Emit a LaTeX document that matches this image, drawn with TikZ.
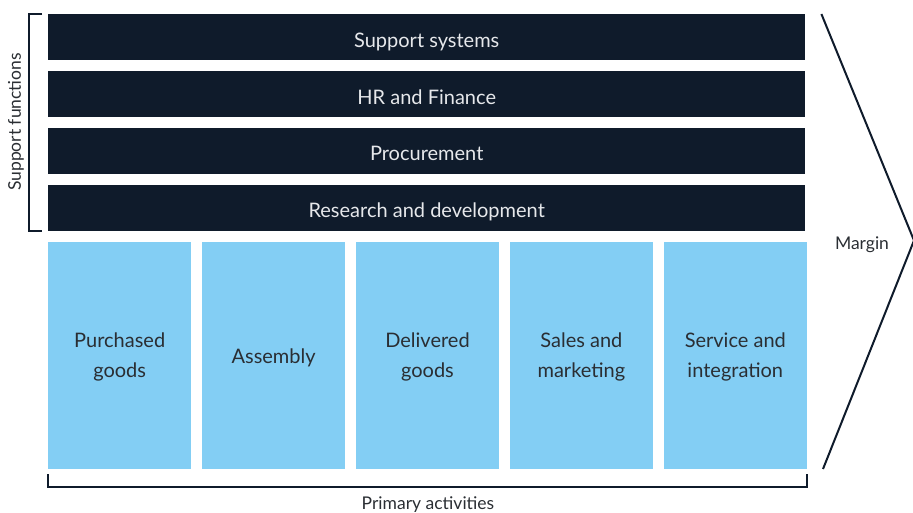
\documentclass[tikz,border=0pt]{standalone}
\usepackage{fontspec}
\setmainfont{Lato}
\usetikzlibrary{positioning}

\definecolor{navy}{HTML}{0F1B2B}
\definecolor{skyblue}{HTML}{83CEF4}
\definecolor{bartext}{HTML}{E6E8EB}
\definecolor{boxtext}{HTML}{2A2E33}

\tikzset{
  supbar/.style={fill=navy, text=bartext, minimum width=757pt, minimum height=46pt, inner sep=0pt, text height=20pt, text depth=0pt, font=\fontsize{20}{24}\selectfont},
  actbox/.style={fill=skyblue, text=boxtext, minimum width=143pt, minimum height=227pt, inner sep=0pt, align=center, text height=44pt, text depth=0pt, font=\fontsize{20}{30}\selectfont},
  brace/.style={draw=navy, line width=1.2pt},
  sidelabel/.style={text=boxtext, font=\fontsize{17.5}{20}\selectfont}
}

\begin{document}
\begin{tikzpicture}[x=1pt, y=-1pt, node distance=10.5pt]
  \useasboundingbox (0,0) rectangle (913,513);
  % support functions
  \node[supbar, anchor=north west](r1) at (48,14){Support systems};
  \node[supbar, below =of r1](r2){HR and Finance};
  \node[supbar, below =of r2](r3){Procurement};
  \node[supbar, below =of r3](r4){Research and development};
  % primary activities
  \node[actbox, anchor=north west](p1) at ([yshift=-10.5pt]r4.south west){Purchased\\goods};
  \node[actbox, right =10.5pt of p1, text height=16pt](p2){Assembly};
  \node[actbox, right =10.5pt of p2](p3){Delivered\\goods};
  \node[actbox, right =10.5pt of p3](p4){Sales and\\marketing};
  \node[actbox, right =10.5pt of p4](p5){Service and\\integration};
  % brackets
  \draw[brace] ([xshift=-6pt]r1.north west) -| ([xshift=-19pt]r4.south west) -- ([xshift=-6pt]r4.south west);
  \node[sidelabel, rotate=90](sf) at (16,122){Support functions};
  \draw[brace] ([yshift=-5pt]p1.south west) -- ++(0,13) -| ([yshift=-5pt]p5.south east);
  \node[sidelabel](pa) at (428,505){Primary activities};
  % margin
  \coordinate (tip) at (914,240.5);
  \draw[navy, line width=2pt] ([xshift=16pt]r1.north east) -- (tip) -- ([xshift=16pt]p5.south east);
  \node[sidelabel](mg) at (862,245){Margin};
\end{tikzpicture}
\end{document}
